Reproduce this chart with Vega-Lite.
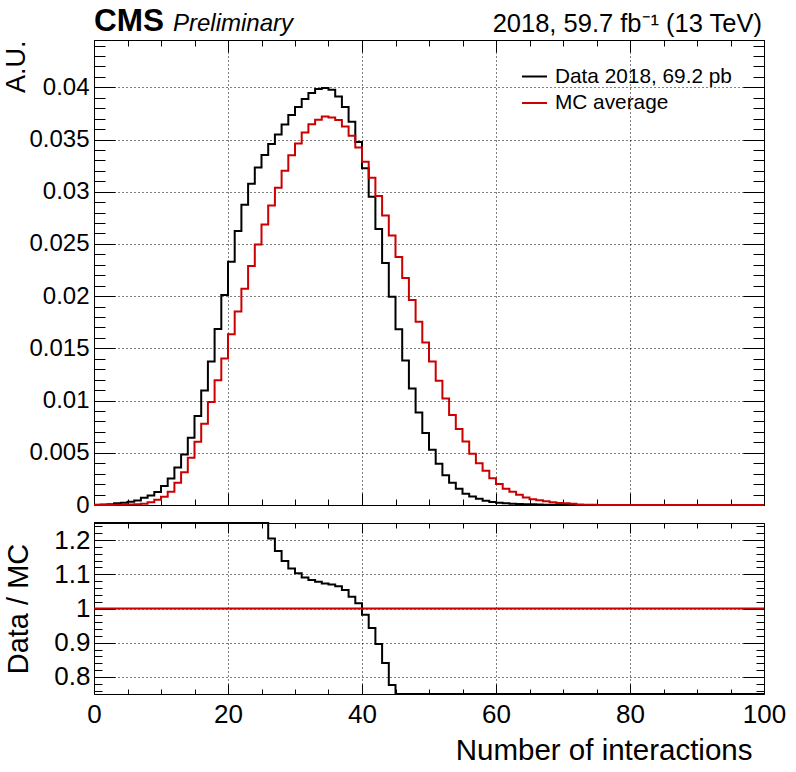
{
  "$schema": "https://vega.github.io/schema/vega-lite/v6.json",
  "padding": {"left": 1, "top": 5, "right": 5, "bottom": 5},
  "spacing": 18,
  "bounds": "flush",
  "datasets": {
    "h": [
      {"n":0,"data":0.00003,"mc":0.000005,"ratio":3.0},
      {"n":1,"data":0.00004,"mc":0.00001,"ratio":3.0},
      {"n":2,"data":0.00006,"mc":0.00001,"ratio":3.5},
      {"n":3,"data":0.00016,"mc":0.00002,"ratio":4.0},
      {"n":4,"data":0.00022,"mc":0.00003,"ratio":4.0},
      {"n":5,"data":0.00032,"mc":0.00005,"ratio":4.5},
      {"n":6,"data":0.00042,"mc":0.00008,"ratio":5.0},
      {"n":7,"data":0.0007,"mc":0.00013,"ratio":5.4},
      {"n":8,"data":0.0009,"mc":0.00026,"ratio":3.5},
      {"n":9,"data":0.00125,"mc":0.0005,"ratio":2.5},
      {"n":10,"data":0.00183,"mc":0.0008,"ratio":2.29},
      {"n":11,"data":0.00253,"mc":0.00128,"ratio":1.98},
      {"n":12,"data":0.00359,"mc":0.00212,"ratio":1.69},
      {"n":13,"data":0.00484,"mc":0.00314,"ratio":1.54},
      {"n":14,"data":0.00644,"mc":0.00452,"ratio":1.42},
      {"n":15,"data":0.00853,"mc":0.00606,"ratio":1.41},
      {"n":16,"data":0.01096,"mc":0.00779,"ratio":1.41},
      {"n":17,"data":0.01375,"mc":0.00987,"ratio":1.39},
      {"n":18,"data":0.01686,"mc":0.01195,"ratio":1.41},
      {"n":19,"data":0.0201,"mc":0.01404,"ratio":1.43},
      {"n":20,"data":0.0233,"mc":0.01635,"ratio":1.43},
      {"n":21,"data":0.02625,"mc":0.01853,"ratio":1.42},
      {"n":22,"data":0.02875,"mc":0.0207,"ratio":1.39},
      {"n":23,"data":0.03077,"mc":0.02288,"ratio":1.34},
      {"n":24,"data":0.03231,"mc":0.02494,"ratio":1.3},
      {"n":25,"data":0.03352,"mc":0.02686,"ratio":1.26},
      {"n":26,"data":0.03458,"mc":0.02868,"ratio":1.205},
      {"n":27,"data":0.03548,"mc":0.03038,"ratio":1.168},
      {"n":28,"data":0.03644,"mc":0.03202,"ratio":1.139},
      {"n":29,"data":0.03734,"mc":0.03349,"ratio":1.117},
      {"n":30,"data":0.03811,"mc":0.03461,"ratio":1.103},
      {"n":31,"data":0.03888,"mc":0.03567,"ratio":1.091},
      {"n":32,"data":0.03945,"mc":0.03647,"ratio":1.083},
      {"n":33,"data":0.03984,"mc":0.03689,"ratio":1.078},
      {"n":34,"data":0.03994,"mc":0.03721,"ratio":1.073},
      {"n":35,"data":0.03977,"mc":0.03711,"ratio":1.07},
      {"n":36,"data":0.03913,"mc":0.03686,"ratio":1.065},
      {"n":37,"data":0.03811,"mc":0.03625,"ratio":1.054},
      {"n":38,"data":0.0367,"mc":0.03535,"ratio":1.034},
      {"n":39,"data":0.03477,"mc":0.03423,"ratio":1.015},
      {"n":40,"data":0.03224,"mc":0.03288,"ratio":0.982},
      {"n":41,"data":0.02952,"mc":0.03135,"ratio":0.943},
      {"n":42,"data":0.02644,"mc":0.02958,"ratio":0.896},
      {"n":43,"data":0.02317,"mc":0.02772,"ratio":0.841},
      {"n":44,"data":0.01994,"mc":0.0258,"ratio":0.776},
      {"n":45,"data":0.01682,"mc":0.02375,"ratio":0.71},
      {"n":46,"data":0.01383,"mc":0.02173,"ratio":0.64},
      {"n":47,"data":0.01116,"mc":0.01963,"ratio":0.57},
      {"n":48,"data":0.00885,"mc":0.01756,"ratio":0.5},
      {"n":49,"data":0.00689,"mc":0.01556,"ratio":0.44},
      {"n":50,"data":0.0053,"mc":0.01374,"ratio":0.39},
      {"n":51,"data":0.00396,"mc":0.01191,"ratio":0.33},
      {"n":52,"data":0.00286,"mc":0.0102,"ratio":0.28},
      {"n":53,"data":0.00213,"mc":0.00863,"ratio":0.25},
      {"n":54,"data":0.00156,"mc":0.00729,"ratio":0.21},
      {"n":55,"data":0.00108,"mc":0.00607,"ratio":0.18},
      {"n":56,"data":0.00081,"mc":0.0049,"ratio":0.17},
      {"n":57,"data":0.0006,"mc":0.00401,"ratio":0.15},
      {"n":58,"data":0.00041,"mc":0.00329,"ratio":0.12},
      {"n":59,"data":0.00029,"mc":0.00255,"ratio":0.11},
      {"n":60,"data":0.00022,"mc":0.00201,"ratio":0.11},
      {"n":61,"data":0.00016,"mc":0.00156,"ratio":0.1},
      {"n":62,"data":0.00012,"mc":0.00128,"ratio":0.09},
      {"n":63,"data":0.0001,"mc":0.00099,"ratio":0.1},
      {"n":64,"data":0.00008,"mc":0.00073,"ratio":0.11},
      {"n":65,"data":0.00006,"mc":0.00054,"ratio":0.11},
      {"n":66,"data":0.00004,"mc":0.00045,"ratio":0.09},
      {"n":67,"data":0.00003,"mc":0.00035,"ratio":0.09},
      {"n":68,"data":0.00002,"mc":0.00026,"ratio":0.08},
      {"n":69,"data":0.00002,"mc":0.00019,"ratio":0.1},
      {"n":70,"data":0.00001,"mc":0.00016,"ratio":0.06},
      {"n":71,"data":0.00001,"mc":0.00013,"ratio":0.08},
      {"n":72,"data":0.00001,"mc":0.00005,"ratio":0.2},
      {"n":73,"data":0.00001,"mc":0.00003,"ratio":0.3},
      {"n":74,"data":0.00001,"mc":0.00002,"ratio":0.5},
      {"n":75,"data":0,"mc":0.00001,"ratio":0},
      {"n":76,"data":0,"mc":0.00001,"ratio":0},
      {"n":77,"data":0,"mc":0.00001,"ratio":0},
      {"n":78,"data":0,"mc":0.00001,"ratio":0},
      {"n":79,"data":0,"mc":0.00001,"ratio":0},
      {"n":80,"data":0,"mc":0,"ratio":0},
      {"n":81,"data":0,"mc":0,"ratio":0},
      {"n":82,"data":0,"mc":0,"ratio":0},
      {"n":83,"data":0,"mc":0,"ratio":0},
      {"n":84,"data":0,"mc":0,"ratio":0},
      {"n":85,"data":0,"mc":0,"ratio":0},
      {"n":86,"data":0,"mc":0,"ratio":0},
      {"n":87,"data":0,"mc":0,"ratio":0},
      {"n":88,"data":0,"mc":0,"ratio":0},
      {"n":89,"data":0,"mc":0,"ratio":0},
      {"n":90,"data":0,"mc":0,"ratio":0},
      {"n":91,"data":0,"mc":0,"ratio":0},
      {"n":92,"data":0,"mc":0,"ratio":0},
      {"n":93,"data":0,"mc":0,"ratio":0},
      {"n":94,"data":0,"mc":0,"ratio":0},
      {"n":95,"data":0,"mc":0,"ratio":0},
      {"n":96,"data":0,"mc":0,"ratio":0},
      {"n":97,"data":0,"mc":0,"ratio":0},
      {"n":98,"data":0,"mc":0,"ratio":0},
      {"n":99,"data":0,"mc":0,"ratio":0},
      {"n":100,"data":0,"mc":0,"ratio":0}
    ]
  },
  "vconcat": [
    {
      "width": 670,
      "height": 465,
      "resolve": {"axis": {"x": "independent", "y": "independent"}},
      "layer": [
        {
          "data": {"name": "h"},
          "mark": {"type": "line", "interpolate": "step-after", "strokeWidth": 2},
          "encoding": {
            "x": {
              "field": "n", "type": "quantitative",
              "scale": {"domain": [0, 100], "nice": false, "zero": false},
              "axis": {
                "orient": "bottom",
                "values": [0,5,10,15,20,25,30,35,40,45,50,55,60,65,70,75,80,85,90,95,100],
                "labels": false, "title": null, "grid": true,
                "gridOpacity": {"condition": {"test": "datum.value % 20 === 0", "value": 1}, "value": 0},
                "tickSize": {"condition": {"test": "datum.value % 20 === 0", "value": -12}, "value": -6}
              }
            },
            "y": {
              "field": "data", "type": "quantitative",
              "scale": {"domain": [0, 0.04453], "nice": false, "zero": false},
              "axis": {
                "orient": "left",
                "values": [0,0.001,0.002,0.003,0.004,0.005,0.006,0.007,0.008,0.009,0.01,0.011,0.012,0.013,0.014,0.015,0.016,0.017,0.018,0.019,0.02,0.021,0.022,0.023,0.024,0.025,0.026,0.027,0.028,0.029,0.03,0.031,0.032,0.033,0.034,0.035,0.036,0.037,0.038,0.039,0.04,0.041,0.042,0.043,0.044],
                "title": "A.U.", "titleFontSize": 27, "titleAngle": -90, "titleAlign": "right",
                "titleBaseline": "alphabetic", "titleX": -70, "titleY": 0,
                "labelFontSize": 24, "labelPadding": 26,
                "labelExpr": "abs(datum.value*200 - round(datum.value*200)) < 1e-6 ? toString(round(datum.value*1000)/1000) : ''",
                "grid": true,
                "gridOpacity": {"condition": {"test": "abs(datum.value*200 - round(datum.value*200)) < 1e-6", "value": 1}, "value": 0},
                "tickSize": {"condition": {"test": "abs(datum.value*200 - round(datum.value*200)) < 1e-6", "value": -21}, "value": -11}
              }
            },
            "color": {
              "datum": "Data 2018, 69.2 pb", "type": "nominal",
              "scale": {"domain": ["Data 2018, 69.2 pb", "MC average"], "range": ["#000000", "#cc0000"]},
              "legend": {
                "orient": "none", "legendX": 427, "legendY": 23, "title": null,
                "symbolType": "stroke", "symbolSize": 625, "symbolStrokeWidth": 2,
                "labelFontSize": 20.8, "labelOffset": 7, "labelLimit": 0, "rowPadding": 2.5, "padding": 0,
                "labelColor": "black", "labelFont": "Liberation Sans"
              }
            }
          }
        },
        {
          "data": {"name": "h"},
          "mark": {"type": "line", "interpolate": "step-after", "strokeWidth": 2},
          "encoding": {
            "x": {
              "field": "n", "type": "quantitative",
              "axis": {
                "orient": "top",
                "values": [0,5,10,15,20,25,30,35,40,45,50,55,60,65,70,75,80,85,90,95,100],
                "labels": false, "title": null, "grid": false,
                "tickSize": {"condition": {"test": "datum.value % 20 === 0", "value": -12}, "value": -6}
              }
            },
            "y": {
              "field": "mc", "type": "quantitative",
              "axis": {
                "orient": "right",
                "values": [0,0.001,0.002,0.003,0.004,0.005,0.006,0.007,0.008,0.009,0.01,0.011,0.012,0.013,0.014,0.015,0.016,0.017,0.018,0.019,0.02,0.021,0.022,0.023,0.024,0.025,0.026,0.027,0.028,0.029,0.03,0.031,0.032,0.033,0.034,0.035,0.036,0.037,0.038,0.039,0.04,0.041,0.042,0.043,0.044],
                "labels": false, "title": null, "grid": false,
                "tickSize": {"condition": {"test": "abs(datum.value*200 - round(datum.value*200)) < 1e-6", "value": -21}, "value": -11}
              }
            },
            "color": {"datum": "MC average", "type": "nominal"}
          }
        },
        {
          "data": {"values": [{}]},
          "mark": {"type": "text", "text": "CMS", "fontSize": 31.5, "fontWeight": "bold", "align": "left", "baseline": "alphabetic", "dy": -9.5, "color": "black"},
          "encoding": {
            "x": {"datum": 0, "type": "quantitative", "axis": null},
            "y": {"datum": 0.04453, "type": "quantitative", "axis": null}
          }
        },
        {
          "data": {"values": [{}]},
          "mark": {"type": "text", "text": "Preliminary", "fontSize": 24, "fontStyle": "italic", "align": "left", "baseline": "alphabetic", "dx": 79, "dy": -9.5, "color": "black"},
          "encoding": {
            "x": {"datum": 0, "type": "quantitative", "axis": null},
            "y": {"datum": 0.04453, "type": "quantitative", "axis": null}
          }
        },
        {
          "data": {"values": [{}]},
          "mark": {"type": "text", "text": "2018, 59.7 fb⁻¹ (13 TeV)", "fontSize": 25.5, "align": "right", "baseline": "alphabetic", "dx": -2, "dy": -8.5, "color": "black"},
          "encoding": {
            "x": {"datum": 100, "type": "quantitative", "axis": null},
            "y": {"datum": 0.04453, "type": "quantitative", "axis": null}
          }
        }
      ]
    },
    {
      "width": 670,
      "height": 171,
      "resolve": {"axis": {"x": "independent", "y": "independent"}},
      "layer": [
        {
          "data": {"name": "h"},
          "mark": {"type": "line", "interpolate": "step-after", "strokeWidth": 2, "color": "#000000"},
          "encoding": {
            "x": {
              "field": "n", "type": "quantitative",
              "scale": {"domain": [0, 100], "nice": false, "zero": false},
              "axis": {
                "orient": "bottom",
                "values": [0,5,10,15,20,25,30,35,40,45,50,55,60,65,70,75,80,85,90,95,100],
                "title": "Number of interactions", "titleFontSize": 29.5, "titleAlign": "right",
                "titleBaseline": "alphabetic", "titleX": 658, "titleY": 65,
                "labelFontSize": 26, "labelPadding": 17,
                "labelExpr": "datum.value % 20 === 0 ? datum.label : ''",
                "grid": true,
                "gridOpacity": {"condition": {"test": "datum.value % 20 === 0", "value": 1}, "value": 0},
                "tickSize": {"condition": {"test": "datum.value % 20 === 0", "value": -10}, "value": -5}
              }
            },
            "y": {
              "field": "ratio", "type": "quantitative",
              "scale": {"domain": [0.75, 1.25], "nice": false, "zero": false, "clamp": true},
              "axis": {
                "orient": "left",
                "values": [0.76,0.78,0.8,0.82,0.84,0.86,0.88,0.9,0.92,0.94,0.96,0.98,1,1.02,1.04,1.06,1.08,1.1,1.12,1.14,1.16,1.18,1.2,1.22,1.24],
                "title": "Data / MC", "titleFontSize": 29, "titleAngle": -90, "titleAlign": "center",
                "titleBaseline": "alphabetic", "titleX": -67, "titleY": 85.5,
                "labelFontSize": 26, "labelPadding": 25,
                "labelExpr": "abs(datum.value*10 - round(datum.value*10)) < 1e-6 ? toString(round(datum.value*10)/10) : ''",
                "grid": true,
                "gridOpacity": {"condition": {"test": "abs(datum.value*10 - round(datum.value*10)) < 1e-6", "value": 1}, "value": 0},
                "tickSize": {"condition": {"test": "abs(datum.value*10 - round(datum.value*10)) < 1e-6", "value": -21}, "value": -8}
              }
            }
          }
        },
        {
          "data": {"name": "h"},
          "mark": {"type": "line", "strokeWidth": 2, "color": "#cc0000"},
          "encoding": {
            "x": {
              "field": "n", "type": "quantitative",
              "axis": {
                "orient": "top",
                "values": [0,5,10,15,20,25,30,35,40,45,50,55,60,65,70,75,80,85,90,95,100],
                "labels": false, "title": null, "grid": false,
                "tickSize": {"condition": {"test": "datum.value % 20 === 0", "value": -10}, "value": -5}
              }
            },
            "y": {
              "datum": 1, "type": "quantitative",
              "axis": {
                "orient": "right",
                "values": [0.76,0.78,0.8,0.82,0.84,0.86,0.88,0.9,0.92,0.94,0.96,0.98,1,1.02,1.04,1.06,1.08,1.1,1.12,1.14,1.16,1.18,1.2,1.22,1.24],
                "labels": false, "title": null, "grid": false,
                "tickSize": {"condition": {"test": "abs(datum.value*10 - round(datum.value*10)) < 1e-6", "value": -21}, "value": -8}
              }
            }
          }
        }
      ]
    }
  ],
  "config": {
    "font": "Liberation Sans",
    "view": {"stroke": "#000000", "strokeWidth": 1},
    "axis": {
      "domain": false,
      "labelColor": "#000000",
      "tickColor": "#000000",
      "tickWidth": 1,
      "gridColor": "#000000",
      "gridDash": [1, 3],
      "gridWidth": 1,
      "titleColor": "#000000",
      "titleFontWeight": "normal",
      "labelFlush": false,
      "labelOverlap": false,
      "labelBound": false,
      "labelFont": "Liberation Sans",
      "titleFont": "Liberation Sans"
    }
  }
}
